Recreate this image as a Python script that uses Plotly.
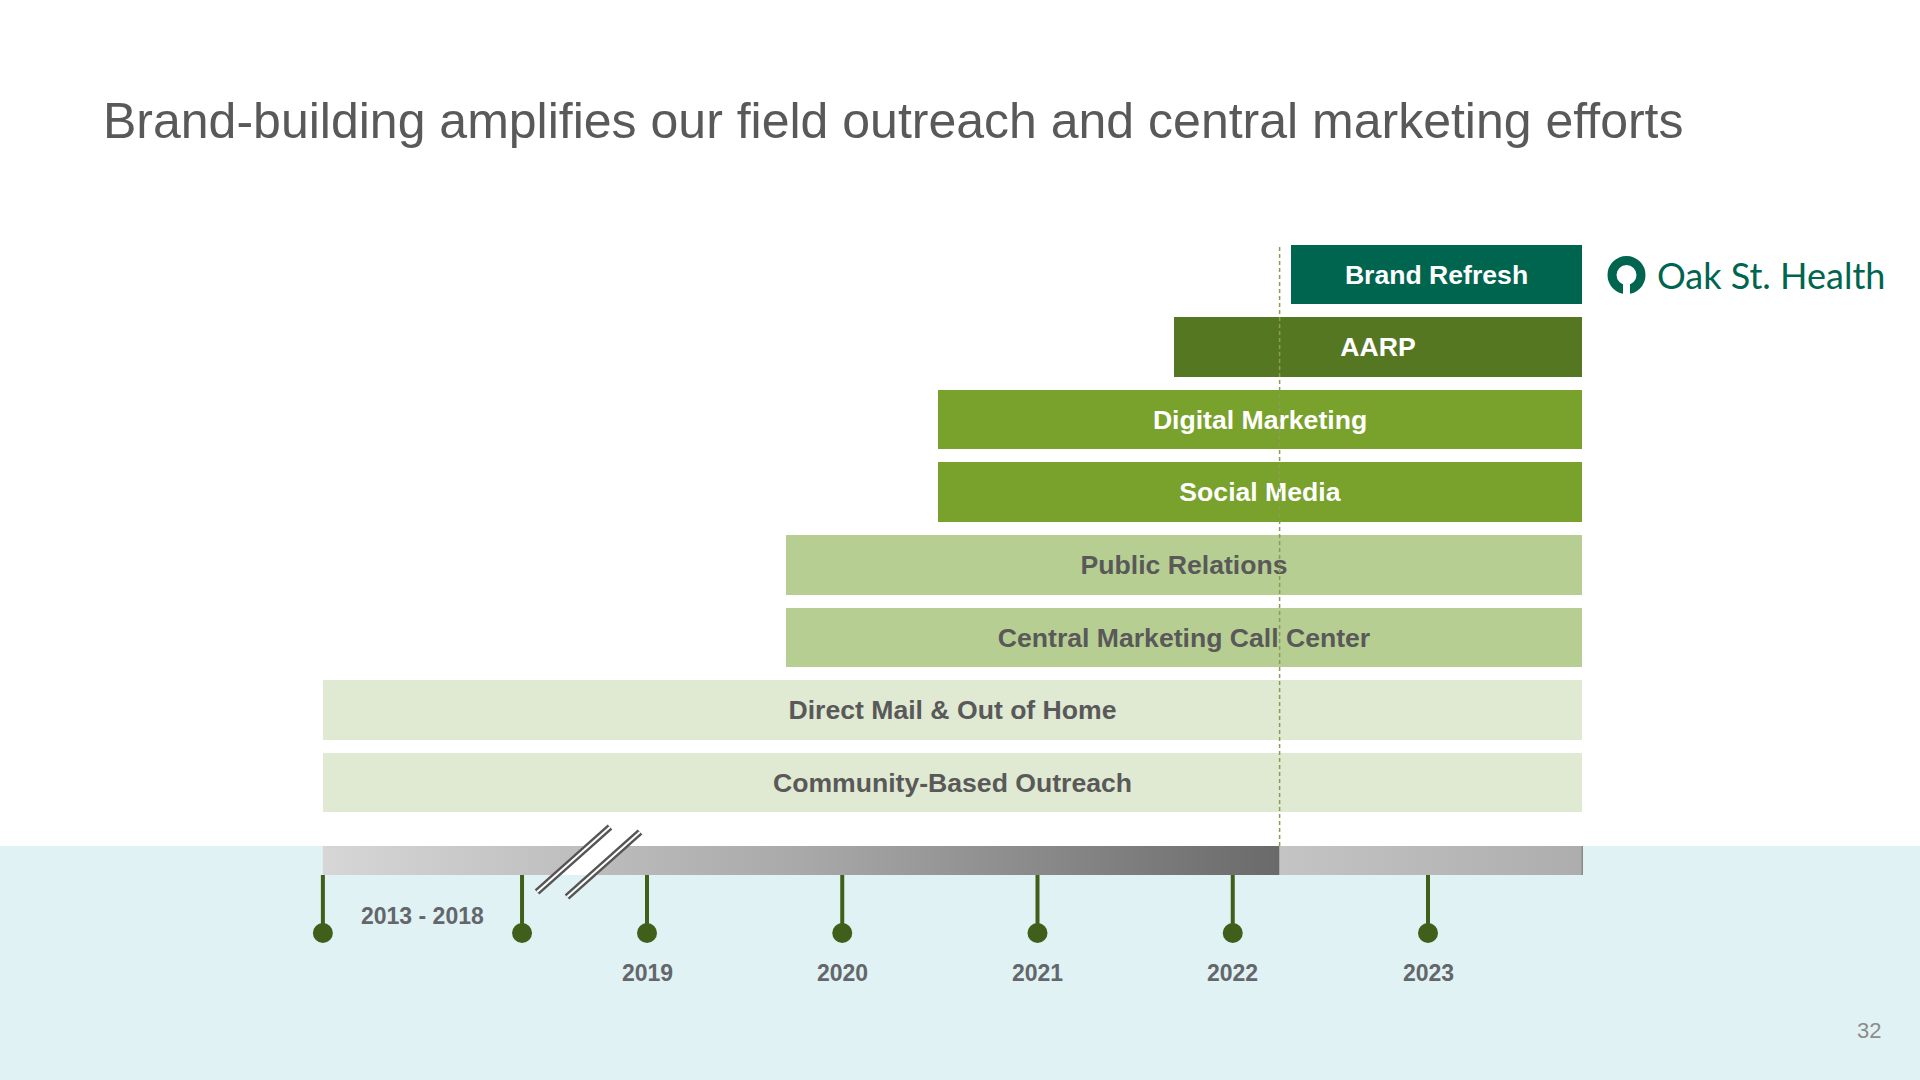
import plotly.graph_objects as go

# ---------------- data ----------------
TITLE = "Brand-building amplifies our field outreach and central marketing efforts"
LOGO_TEXT = "Oak St. Health"
PAGE_NUMBER = "32"

# bottom -> top
activities = [
    "Community-Based Outreach",
    "Direct Mail & Out of Home",
    "Central Marketing Call Center",
    "Public Relations",
    "Social Media",
    "Digital Marketing",
    "AARP",
    "Brand Refresh",
]
# axis is in years from 2019 on; the 2013-2018 era is compressed before the axis break
ERA_START = 2017.34   # axis position of "2013"
ERA_END = 2018.36     # axis position of "2018"
start_year = [ERA_START, ERA_START, 2019.71, 2019.71, 2020.49, 2020.49, 2021.70, 2022.30]
END_YEAR = 2023.79
TODAY = 2022.24

bar_colors = ["#e0e9d2", "#e0e9d2", "#b7ce93", "#b7ce93", "#79a22d", "#79a22d", "#567722", "#00654f"]
text_colors = ["#595959", "#595959", "#595959", "#595959", "#ffffff", "#ffffff", "#ffffff", "#ffffff"]

tick_years = [ERA_START, ERA_END, 2019, 2020, 2021, 2022, 2023]
year_labels = ["2019", "2020", "2021", "2022", "2023"]
year_label_pos = [2019, 2020, 2021, 2022, 2023]
ERA_LABEL = "2013 - 2018"

# ---------------- figure ----------------
W, H = 1920, 1080
def py(px):  # paper y from pixel row
    return 1 - px / H
def pxx(px):
    return px / W

FONT = "Liberation Sans, Arial, Helvetica, sans-serif"
DARK_GREEN = "#3f5f1b"

fig = go.Figure()

fig.add_trace(go.Bar(
    y=list(range(len(activities))),
    x=[END_YEAR - s for s in start_year],
    base=start_year,
    orientation="h",
    width=0.82,
    marker=dict(color=bar_colors, line=dict(width=0)),
    text=activities,
    textposition="inside",
    insidetextanchor="middle",
    constraintext="none",
    textfont=dict(family=FONT, size=26.6, color=text_colors, weight="bold"),
    hoverinfo="skip",
    showlegend=False,
))

TL_TOP, TL_BOT = py(846), py(875)

# timeline bar (gradient) : elapsed part and remaining part
fig.add_trace(go.Scatter(
    x=[ERA_START, TODAY, TODAY, ERA_START, ERA_START],
    y=[TL_TOP, TL_TOP, TL_BOT, TL_BOT, TL_TOP],
    yaxis="y2", mode="lines", line=dict(width=0), fill="toself",
    fillgradient=dict(type="horizontal", colorscale=[[0, "#d6d6d6"], [0.5, "#a9a9a9"], [1, "#6a6a6a"]]),
    hoverinfo="skip", showlegend=False,
))
fig.add_trace(go.Scatter(
    x=[TODAY, END_YEAR, END_YEAR, TODAY, TODAY],
    y=[TL_TOP, TL_TOP, TL_BOT, TL_BOT, TL_TOP],
    yaxis="y2", mode="lines", line=dict(width=0), fill="toself",
    fillgradient=dict(type="horizontal", colorscale=[[0, "#c4c4c4"], [1, "#adadad"]]),
    hoverinfo="skip", showlegend=False,
))

# dots
DOT_Y = py(933)
fig.add_trace(go.Scatter(
    x=tick_years, y=[DOT_Y] * len(tick_years), yaxis="y2", mode="markers",
    marker=dict(size=20, color=DARK_GREEN, line=dict(width=0)),
    hoverinfo="skip", showlegend=False,
))

shapes = []
# light blue band
shapes.append(dict(type="rect", xref="paper", yref="paper", x0=0, x1=1, y0=0, y1=TL_TOP,
                   fillcolor="#e0f2f4", line=dict(width=0), layer="below"))
# end cap line of timeline
shapes.append(dict(type="line", xref="x", yref="paper", x0=END_YEAR, x1=END_YEAR, y0=TL_BOT, y1=TL_TOP,
                   line=dict(color="#8a8a8a", width=1.5), layer="above"))
# stems
for t in tick_years:
    shapes.append(dict(type="line", xref="x", yref="paper", x0=t, x1=t, y0=TL_BOT, y1=DOT_Y,
                       line=dict(color=DARK_GREEN, width=4), layer="above"))

# axis break: white gap + double slashes
def xv(px):
    return 2019 + (px - 647) / 195.25
gap_path = "M {a},{b} L {c},{d} L {e},{d} L {f},{b} Z".format(
    a=xv(556), b=TL_BOT, c=xv(589), d=TL_TOP, e=xv(624), f=xv(592))
shapes.append(dict(type="path", xref="x", yref="paper", path=gap_path,
                   fillcolor="#ffffff", line=dict(width=0), layer="above"))
for (xa, ya, xb, yb) in [(537, 892, 610, 827), (567, 897, 640, 832)]:
    shapes.append(dict(type="line", xref="x", yref="paper", x0=xv(xa), y0=py(ya), x1=xv(xb), y1=py(yb),
                       line=dict(color="#555555", width=7), layer="above"))
    shapes.append(dict(type="line", xref="x", yref="paper", x0=xv(xa), y0=py(ya), x1=xv(xb), y1=py(yb),
                       line=dict(color="#ffffff", width=2), layer="above"))

# today dashed line
shapes.append(dict(type="line", xref="x", yref="paper", x0=TODAY, x1=TODAY, y0=TL_TOP, y1=py(244),
                   line=dict(color="#8c9c55", width=1.5, dash="4px,3px"), layer="above"))

# logo ring
LOGO_GREEN = "#00654f"
cx, cy, r = 1626.5, 275, 14.5
shapes.append(dict(type="circle", xref="paper", yref="paper",
                   x0=pxx(cx - r), x1=pxx(cx + r), y0=py(cy + r), y1=py(cy - r),
                   line=dict(color=LOGO_GREEN, width=9), fillcolor="rgba(0,0,0,0)", layer="above"))
shapes.append(dict(type="rect", xref="paper", yref="paper",
                   x0=pxx(cx - 3.5), x1=pxx(cx + 3.5), y0=py(cy + r + 6), y1=py(cy + r - 7),
                   fillcolor="#ffffff", line=dict(width=0), layer="above"))

annotations = []
annotations.append(dict(text=TITLE, xref="paper", yref="paper", x=pxx(101), y=py(121),
                        xanchor="left", yanchor="middle", showarrow=False,
                        font=dict(family=FONT, size=50, color="#595959")))
annotations.append(dict(text=LOGO_TEXT, xref="paper", yref="paper", x=pxx(1655), y=py(275),
                        xanchor="left", yanchor="middle", showarrow=False,
                        font=dict(family="Lato, Open Sans, sans-serif", size=36, color=LOGO_GREEN)))
annotations.append(dict(text=ERA_LABEL, xref="x", yref="paper", x=(ERA_START + ERA_END) / 2, y=py(916),
                        xanchor="center", yanchor="middle", showarrow=False,
                        font=dict(family=FONT, size=23, color="#63666a", weight="bold")))
for lab, pos in zip(year_labels, year_label_pos):
    annotations.append(dict(text=lab, xref="x", yref="paper", x=pos, y=py(973),
                            xanchor="center", yanchor="middle", showarrow=False,
                            font=dict(family=FONT, size=23, color="#63666a", weight="bold")))
annotations.append(dict(text=PAGE_NUMBER, xref="paper", yref="paper", x=pxx(1869), y=py(1030),
                        xanchor="center", yanchor="middle", showarrow=False,
                        font=dict(family=FONT, size=22, color="#8c8c8c")))

fig.update_layout(
    width=W, height=H,
    margin=dict(l=0, r=0, t=0, b=0, pad=0),
    paper_bgcolor="#ffffff", plot_bgcolor="rgba(0,0,0,0)",
    xaxis=dict(range=[xv(0), xv(W)], visible=False, fixedrange=True),
    yaxis=dict(range=[(782.5 - H) / 72.57, 782.5 / 72.57], visible=False, fixedrange=True),
    yaxis2=dict(range=[0, 1], overlaying="y", visible=False, fixedrange=True),
    shapes=shapes,
    annotations=annotations,
    showlegend=False,
    bargap=0,
)

fig.write_html("out.html", config={"displayModeBar": False},
               post_script="document.body.style.margin='0';document.body.style.overflow='hidden';")
